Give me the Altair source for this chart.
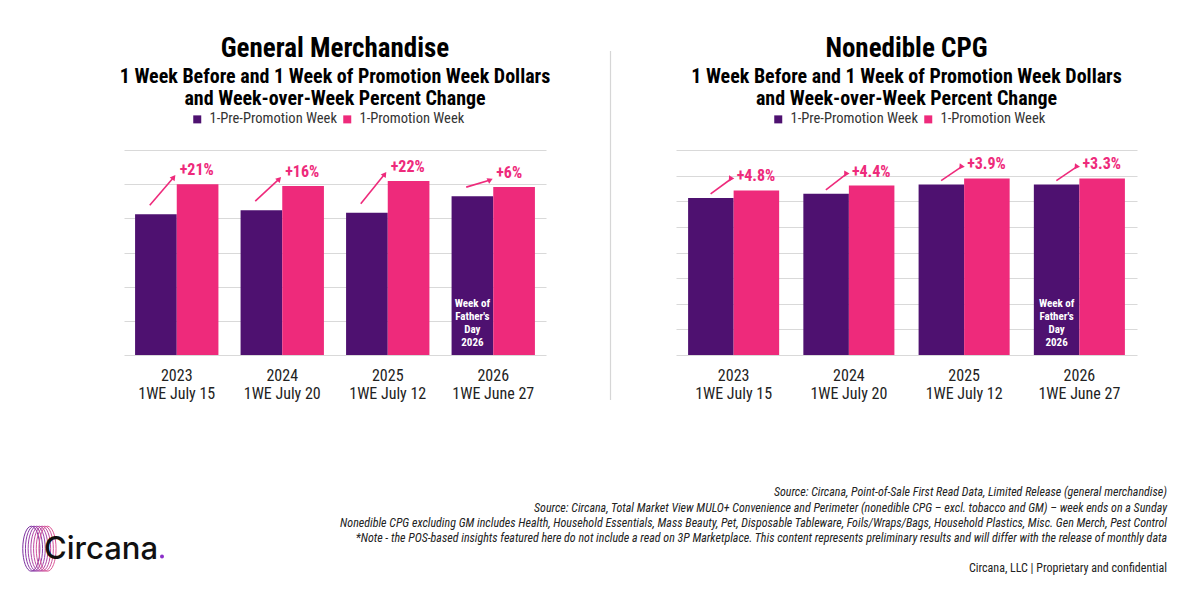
import altair as alt
import pandas as pd

# ---------------- data ----------------
years = ["2023", "2024", "2025", "2026"]
week_ending = ["1WE July 15", "1WE July 20", "1WE July 12", "1WE June 27"]
series_names = ["1-Pre-Promotion Week", "1-Promotion Week"]

gm_pre = [4.12, 4.24, 4.16, 4.65]
gm_promo = [5.00, 4.95, 5.09, 4.92]
gm_change = ["+21%", "+16%", "+22%", "+6%"]

cpg_pre = [6.13, 6.29, 6.65, 6.65]
cpg_promo = [6.42, 6.61, 6.89, 6.89]
cpg_change = ["+4.8%", "+4.4%", "+3.9%", "+3.3%"]

note_year = "2026"
note_text = "Week of\nFather's\nDay\n2026"

gm_title = "General Merchandise"
cpg_title = "Nonedible CPG"
subtitle_lines = ["1 Week Before and 1 Week of Promotion Week Dollars",
                  "and Week-over-Week Percent Change"]

footer_lines = [
    "Source: Circana, Point-of-Sale First Read Data, Limited Release (general merchandise)",
    "Source: Circana, Total Market View MULO+ Convenience and Perimeter (nonedible CPG \u2013 excl. tobacco and GM) \u2013 week ends on a Sunday",
    "Nonedible CPG excluding GM includes Health, Household Essentials, Mass Beauty, Pet, Disposable Tableware, Foils/Wraps/Bags, Household Plastics, Misc. Gen Merch, Pest Control",
    "*Note - the POS-based insights featured here do not include a read on 3P Marketplace. This content represents preliminary results and will differ with the release of monthly data",
]
footer_credit = "Circana, LLC  |  Proprietary and confidential"
logo_word = "Circana"

# ---------------- style ----------------
PURPLE = "#4E1170"
PINK = "#EE2A7B"
FONT = "Roboto Condensed, Liberation Sans Narrow, Roboto, sans-serif"
H = 205
RING_COLORS = ["#7A2E9E", "#8A3AA6", "#9C40A8", "#AE46A6", "#C04CA2", "#CF529C", "#DC5896"]
ELLIPSE = "M0,-1A0.38,1,0,1,1,0,1A0.38,1,0,1,1,0,-1Z"


def panel(title, pre, promo, change, ymax, width, legend_x, arr, extras=None):
    cats = [f"{y}\n{w}" for y, w in zip(years, week_ending)]
    long = pd.DataFrame({
        "cat": cats * 2,
        "series": [series_names[0]] * len(cats) + [series_names[1]] * len(cats),
        "value": pre + promo,
    })
    wide = pd.DataFrame({"cat": cats, "pre": pre, "promo": promo, "change": change})
    note_df = pd.DataFrame({
        "cat": [c for c, y in zip(cats, years) if y == note_year],
        "series": [series_names[0]],
        "text": [note_text],
    })
    ppu = H / ymax

    x_enc = alt.X("cat:N", sort=cats,
                  scale=alt.Scale(paddingInner=0.21, paddingOuter=0.105),
                  axis=alt.Axis(title=None, labelExpr="split(datum.value, '\\n')",
                                labelAngle=0, ticks=False, domain=False,
                                labelPadding=12, labelFontSize=16, labelLineHeight=18,
                                labelColor="#222", labelFont=FONT, grid=False))
    y_scale = alt.Scale(domain=[0, ymax], nice=False, zero=True)
    y_axis = alt.Axis(title=None, labels=False, ticks=False, domain=False,
                      values=list(range(ymax + 1)), gridColor="#d9d9d9", gridWidth=1)
    xo = alt.XOffset("series:N", sort=series_names,
                     scale=alt.Scale(paddingInner=0, paddingOuter=0))

    bars = alt.Chart(long).mark_bar().encode(
        x=x_enc,
        xOffset=xo,
        y=alt.Y("value:Q", scale=y_scale, axis=y_axis),
        color=alt.Color("series:N", sort=series_names,
                        scale=alt.Scale(domain=series_names, range=[PURPLE, PINK]),
                        legend=alt.Legend(title=None, orient="none", direction="horizontal",
                                          legendX=legend_x, legendY=-38,
                                          symbolType="square", symbolSize=64,
                                          symbolStrokeWidth=0, labelFontSize=14.5,
                                          labelColor="#333", labelFont=FONT,
                                          labelOffset=5, columnPadding=3)),
    )

    arrows = alt.Chart(wide).mark_rule(
        color=PINK, strokeWidth=1.6,
        xOffset=arr["x0"], x2Offset=arr["x1"], yOffset=-arr["s"], y2Offset=-arr["e"],
    ).encode(x=x_enc, x2="cat:N",
             y=alt.Y("pre:Q", scale=y_scale, axis=y_axis), y2="promo:Q")

    dx = arr["x1"] - arr["x0"]
    heads = alt.Chart(wide).transform_calculate(
        ang=f"atan2({dx}, (datum.promo - datum.pre) * {ppu} + {arr['s'] - arr['e']}) * 180 / PI"
    ).mark_point(shape="triangle-up", filled=True, size=38, color=PINK, opacity=1,
                 xOffset=arr["x1"], yOffset=-arr["e"]).encode(
        x=x_enc, y=alt.Y("promo:Q", scale=y_scale, axis=y_axis),
        angle=alt.Angle("ang:Q", scale=None))

    labels = alt.Chart(wide).mark_text(
        align="left", baseline="middle", dx=3, dy=-14, fontSize=16,
        fontWeight="bold", color=PINK, font=FONT,
    ).encode(x=x_enc, y=alt.Y("promo:Q", scale=y_scale, axis=y_axis), text="change:N")

    note = alt.Chart(note_df).mark_text(
        color="white", fontSize=11, fontWeight="bold", lineBreak="\n",
        lineHeight=13, baseline="top", dy=-57, font=FONT,
    ).encode(x=x_enc, xOffset=xo, y=alt.Y(datum=0, scale=y_scale, axis=y_axis), text="text:N")

    layers = [bars, arrows, heads, labels, note] + (extras or [])
    return alt.layer(*layers).properties(
        width=width, height=H,
        title=alt.Title(text=title, subtitle=subtitle_lines, anchor="middle", frame="group",
                        fontSize=27, fontWeight="bold", color="#000", font=FONT,
                        subtitleFontSize=20, subtitleFontWeight="bold",
                        subtitleColor="#000", subtitleFont=FONT,
                        subtitleLineHeight=22, subtitlePadding=4, offset=2),
    ).resolve_scale(x="shared", y="shared")


one = pd.DataFrame({"k": [0]})

# logo (bottom-left), placed relative to the left plot area
logo_layers = []
for i, col in enumerate(RING_COLORS):
    logo_layers.append(
        alt.Chart(one).mark_point(shape=ELLIPSE, size=2025, filled=False, stroke=col,
                                  strokeWidth=1, opacity=1).encode(
            x=alt.value(-92.7 + i * 2.7), y=alt.value(398.7)))
logo_layers.append(
    alt.Chart(one).mark_text(align="left", baseline="alphabetic", fontSize=31,
                             font="Inter", fontWeight=500, color="#111").encode(
        x=alt.value(-80), y=alt.value(408.5), text=alt.value(logo_word)))
logo_layers.append(
    alt.Chart(one).mark_point(filled=True, size=16, color="#8B2FC9", opacity=1).encode(
        x=alt.value(38), y=alt.value(406.5)))

# footer (bottom-right), placed relative to the right plot area
footer_layers = []
for i, line in enumerate(footer_lines):
    footer_layers.append(
        alt.Chart(one).mark_text(
            align="right", baseline="middle", fontSize=12, fontStyle="italic",
            font=FONT, color="#222").encode(
            x=alt.value(491), y=alt.value(342.4 + i * 15.2), text=alt.value(line)))
footer_layers.append(
    alt.Chart(one).mark_text(
        align="right", baseline="middle", fontSize=12, font=FONT, color="#222").encode(
        x=alt.value(491), y=alt.value(418), text=alt.value(footer_credit)))

left = panel(gm_title, gm_pre, gm_promo, gm_change, 6, 422, 66,
             {"x0": -27, "x1": -3, "s": 9, "e": 7}, logo_layers)
right = panel(cpg_title, cpg_pre, cpg_promo, cpg_change, 8, 461, 95,
              {"x0": -23, "x1": -2, "s": 4, "e": 12}, footer_layers)

separator = alt.Chart(one).mark_rule(color="#d6d6d6", strokeWidth=1.2).encode(
    x=alt.value(0), y=alt.value(-99), y2=alt.value(250)).properties(width=1, height=H)

chart = alt.hconcat(left, separator, right, spacing=64.5, bounds="flush").resolve_scale(
    x="independent", y="independent", xOffset="independent", color="shared"
).resolve_legend(color="independent").properties(
    padding={"left": 20, "top": 35, "right": 5, "bottom": 5}
).configure(font=FONT).configure_view(strokeWidth=0)

chart.save("out.html", embed_options={"renderer": "svg", "actions": False})
